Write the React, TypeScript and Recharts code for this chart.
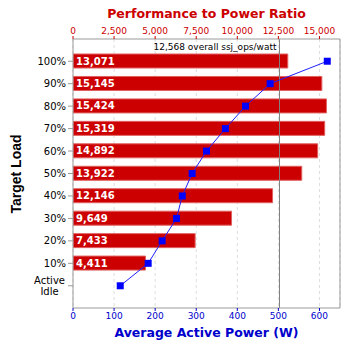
import { ComposedChart, Bar, Line, XAxis, YAxis, CartesianGrid, ReferenceLine, LabelList } from 'recharts';

const LOADS = ['100%', '90%', '80%', '70%', '60%', '50%', '40%', '30%', '20%', '10%', 'Active Idle'];
const RATIOS = [13071, 15145, 15424, 15319, 14892, 13922, 12146, 9649, 7433, 4411, null];
const POWER = [619, 480, 420, 371, 325, 290, 266, 252, 217, 183, 115];
const RATIO_TICKS = [0, 2500, 5000, 7500, 10000, 12500, 15000];
const POWER_TICKS = [0, 100, 200, 300, 400, 500, 600];
const OVERALL = 12568;

const data = LOADS.map((load, i) => ({ load, ratio: RATIOS[i], power: POWER[i] }));

const fmt = (v: number) => v.toLocaleString('en-US');

function LoadTick({ x, y, payload }: any) {
  if (payload.value === 'Active Idle') {
    return (
      <text x={49.5} y={y} textAnchor="middle" fontSize={10} fill="#000">
        <tspan x={49.5} dy={-2}>Active</tspan>
        <tspan x={49.5} dy={11}>Idle</tspan>
      </text>
    );
  }
  return (
    <text x={x} y={y} dy={3.5} textAnchor="end" fontSize={10} fill="#000">
      {payload.value}
    </text>
  );
}

function SquareDot({ cx, cy }: any) {
  if (cx == null || cy == null) return null;
  return <rect x={cx - 3.5} y={cy - 3.5} width={7} height={7} fill="#0000ff" />;
}

function OverallLabel({ viewBox }: any) {
  return (
    <text x={viewBox.x - 3} y={viewBox.y + 11} textAnchor="end" fontSize={9} fill="#000">
      {fmt(OVERALL)} overall ssj_ops/watt
    </text>
  );
}

const title = (color: string, top: number, text: string) => (
  <div
    style={{
      position: 'absolute',
      left: 73,
      width: 267,
      top,
      height: 16,
      lineHeight: '16px',
      textAlign: 'center',
      fontSize: 12.5,
      fontWeight: 'bold',
      color,
      whiteSpace: 'nowrap',
    }}
  >
    {text}
  </div>
);

export default function App() {
  return (
    <div style={{ position: 'absolute', left: 0, top: 0, width: 348, height: 348, fontFamily: 'DejaVu Sans', background: '#fff' }}>
      {title('#cc0000', 6, 'Performance to Power Ratio')}
      {title('#0000cc', 325, 'Average Active Power (W)')}
      <div
        style={{
          position: 'absolute',
          left: 16,
          top: 174,
          transform: 'translate(-50%, -50%) rotate(-90deg)',
          fontFamily: 'Liberation Sans',
          fontWeight: 'bold',
          fontSize: 14,
          whiteSpace: 'nowrap',
        }}
      >
        Target Load
      </div>
      <ComposedChart
        layout="vertical"
        width={348}
        height={348}
        data={data}
        margin={{ top: 19, right: 8, bottom: 20, left: 0 }}
        style={{ fontFamily: 'DejaVu Sans' }}
      >
        <CartesianGrid xAxisId="power" horizontal={false} stroke="#dddddd" strokeDasharray="3 3" verticalPoints={undefined} />
        <XAxis
          xAxisId="ratio"
          orientation="top"
          type="number"
          domain={[0, 16250]}
          ticks={RATIO_TICKS}
          tickFormatter={fmt}
          height={20}
          tick={{ fontSize: 9, fill: '#cc0000' }}
          tickSize={3}
          tickMargin={2}
          tickLine={{ stroke: '#cc0000' }}
          axisLine={{ stroke: '#999999' }}
          allowDataOverflow
        />
        <XAxis
          xAxisId="power"
          orientation="bottom"
          type="number"
          domain={[0, 650]}
          ticks={POWER_TICKS}
          height={20}
          tick={{ fontSize: 9, fill: '#0000cc' }}
          tickSize={3}
          tickMargin={2}
          tickLine={{ stroke: '#0000cc' }}
          axisLine={{ stroke: '#999999' }}
          allowDataOverflow
        />
        <YAxis
          type="category"
          dataKey="load"
          width={73}
          tick={<LoadTick />}
          tickSize={5}
          tickMargin={2}
          tickLine={{ stroke: '#999999' }}
          axisLine={{ stroke: '#999999' }}
          padding={{ top: 11, bottom: 11 }}
          interval={0}
        />
        <Bar xAxisId="ratio" dataKey="ratio" fill="#cc0000" stroke="#e06060" strokeWidth={1} barSize={14} isAnimationActive={false}>
          <LabelList
            dataKey="ratio"
            position="insideLeft"
            offset={3}
            formatter={(v: any) => (v == null ? '' : fmt(v))}
            style={{ fill: '#ffffff', fontSize: 10, fontWeight: 'bold' }}
          />
        </Bar>
        <ReferenceLine xAxisId="ratio" x={OVERALL} stroke="#808080" strokeWidth={1} label={<OverallLabel />} />
        <ReferenceLine xAxisId="power" x={650} stroke="#999999" strokeWidth={1} />
        <Line
          xAxisId="power"
          dataKey="power"
          stroke="#2020ff"
          strokeWidth={1}
          dot={<SquareDot />}
          activeDot={false}
          isAnimationActive={false}
        />
      </ComposedChart>
    </div>
  );
}
